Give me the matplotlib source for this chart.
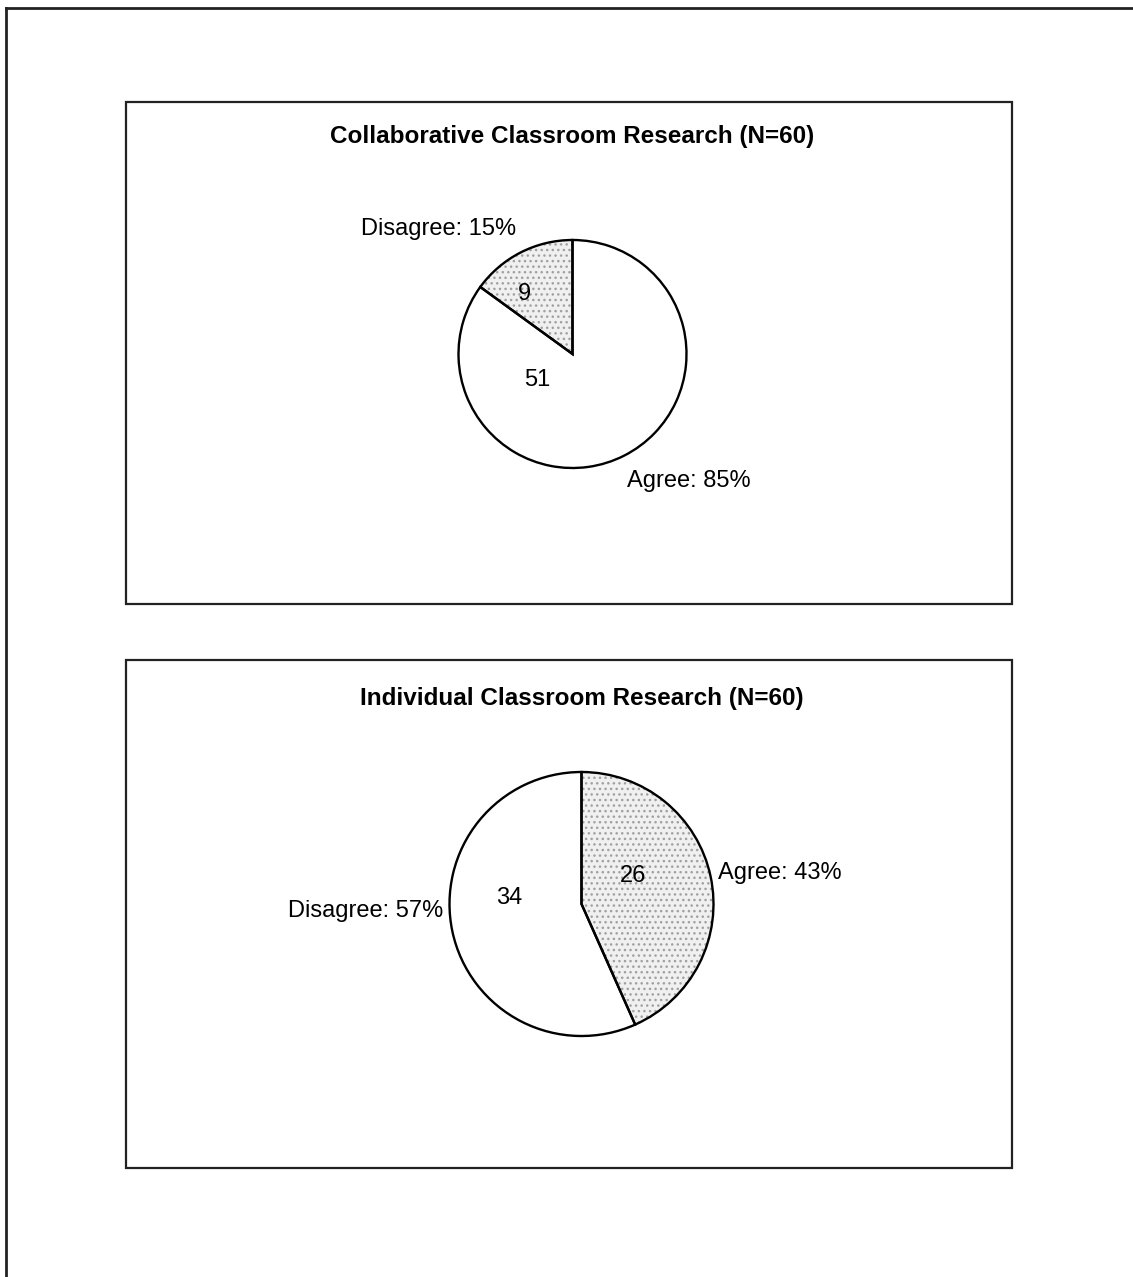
import matplotlib.pyplot as plt
from matplotlib.patches import Rectangle, Wedge

plt.rcParams['font.family'] = ['Liberation Sans', 'DejaVu Sans']

W, H = 1133, 1277

# data
titles = ['Collaborative Classroom Research (N=60)', 'Individual Classroom Research (N=60)']
labels_1 = ['Disagree', 'Agree']
counts_1 = [9, 51]
labels_2 = ['Agree', 'Disagree']
counts_2 = [26, 34]
pct_1 = [15, 85]
pct_2 = [43, 57]

fig = plt.figure(figsize=(W / 100, H / 100), dpi=100)
ax = fig.add_axes([0, 0, 1, 1])

# page border (top and left only)
ax.plot([6, W], [8, 8], color='#222222', lw=2)
ax.plot([6, 6], [8, H], color='#222222', lw=2)

# chart boxes
boxes = [(125.5, 102, 886, 502), (126, 660, 886, 508)]
for (x, y, w, h) in boxes:
    ax.add_patch(Rectangle((x, y), w, h, fill=False, ec='#222222', lw=1.6))

def draw_pie(center, r, counts, pcts, labels, counterclock, hatched, num_pos, lab_pos, title, title_y):
    # y axis is inverted, so flip direction
    wedges, _ = ax.pie(counts, center=center, radius=r, startangle=-90,
                       counterclock=not counterclock, frame=True,
                       wedgeprops=dict(fc='white', ec='black', lw=1.7))
    for i, w in enumerate(wedges):
        if i == hatched:
            w.set_facecolor('#f0f0f0')
            w.set_edgecolor('#a0a0a0')
            w.set_hatch('...')
            w.set_linewidth(0)
            ax.add_patch(Wedge(w.center, w.r, w.theta1, w.theta2,
                               fill=False, ec='black', lw=1.7))
    cx, cy = center
    for c, (dx, dy) in zip(counts, num_pos):
        ax.text(cx + dx * r, cy - dy * r, str(c), ha='center', va='center', fontsize=17)
    for lab, p, (dx, dy) in zip(labels, pcts, lab_pos):
        ax.text(cx + dx * r, cy - dy * r, f'{lab}: {p}%', ha='center', va='center', fontsize=17)
    ax.text(cx, title_y, title, ha='center', va='center', fontsize=17.5, fontweight='bold')

draw_pie((572.5, 354), 114, counts_1, pct_1, labels_1, True, 0,
         [(-0.42, 0.53), (-0.31, -0.23)], [(-1.175, 1.096), (1.018, -1.114)],
         titles[0], 136)
draw_pie((581.5, 904), 132, counts_2, pct_2, labels_2, False, 0,
         [(0.39, 0.21), (-0.545, 0.045)], [(1.5, 0.235), (-1.636, -0.053)],
         titles[1], 698)

ax.set_xlim(0, W)
ax.set_ylim(H, 0)
ax.set_aspect('equal')
ax.axis('off')

fig.savefig('out.png', dpi=100)
